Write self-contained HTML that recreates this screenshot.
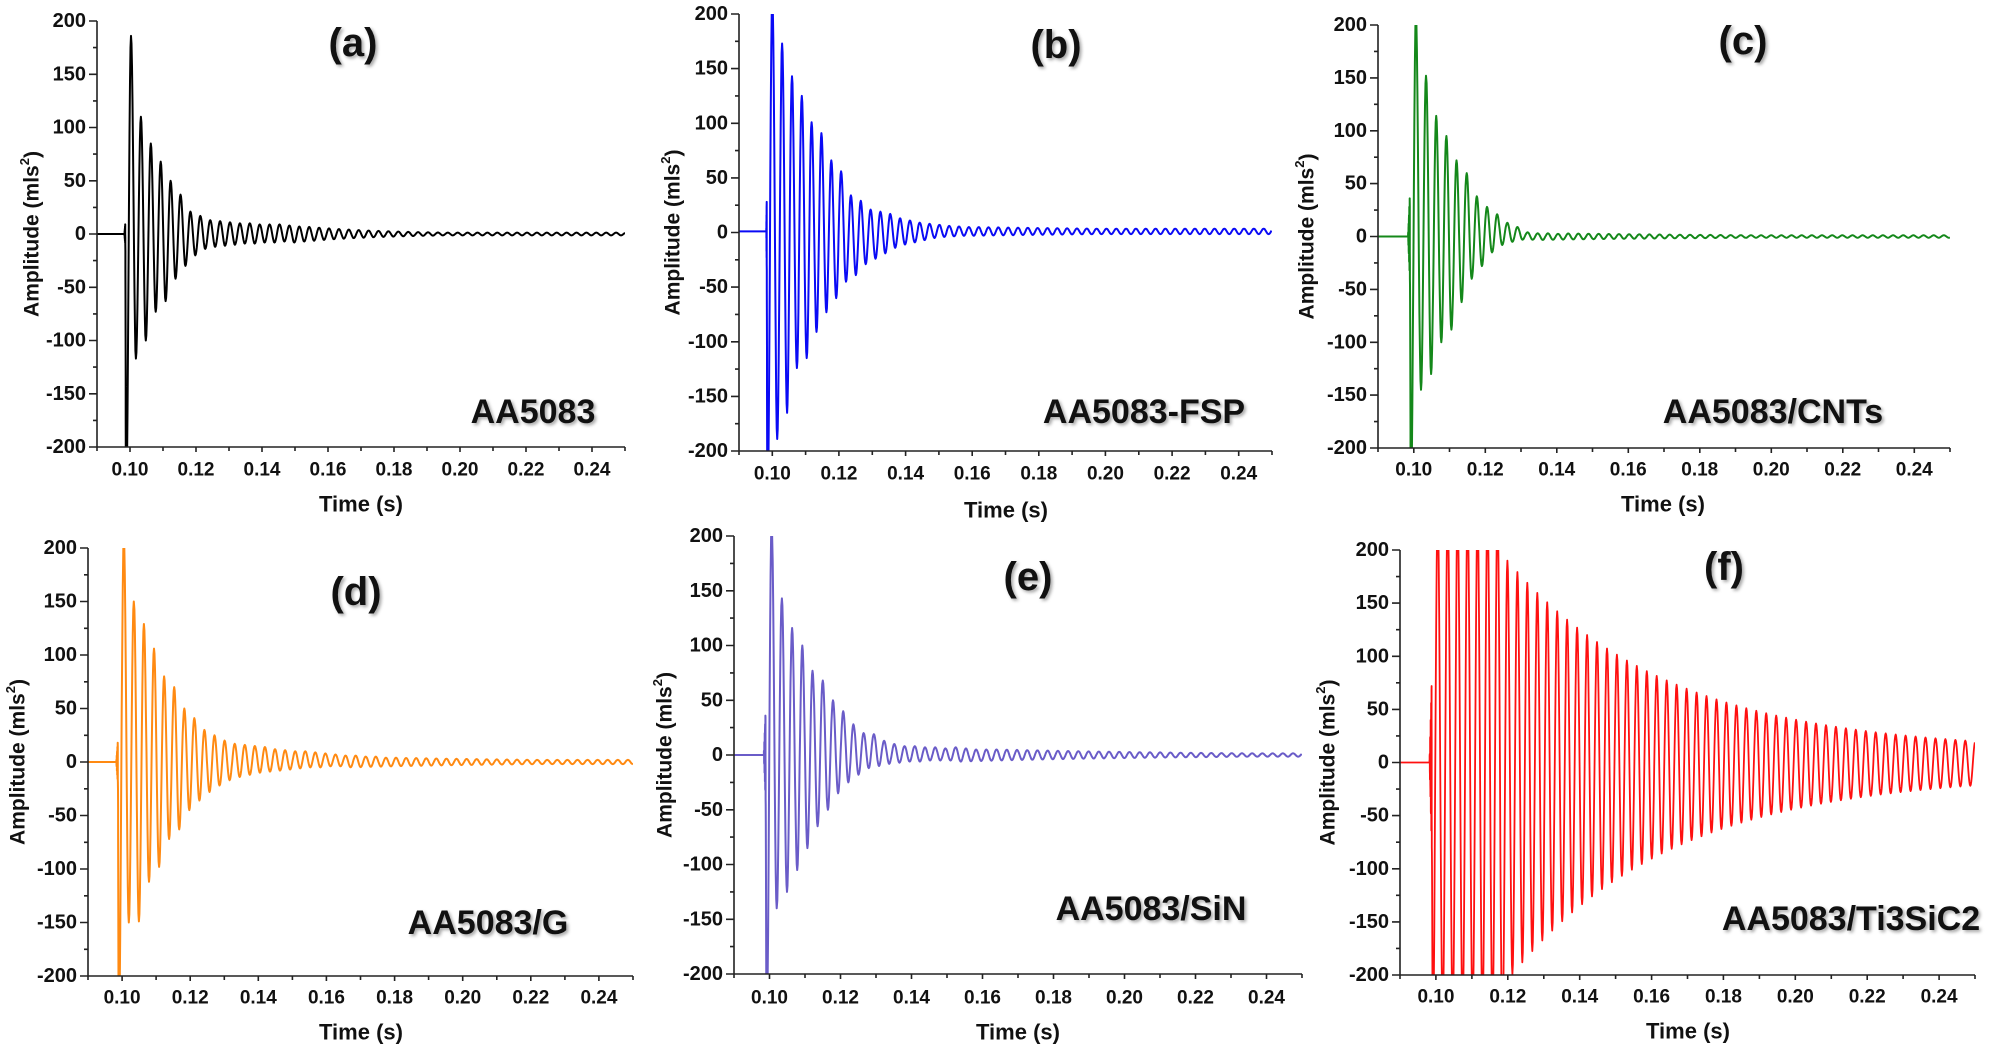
<!DOCTYPE html>
<html><head><meta charset="utf-8">
<style>
html,body{margin:0;padding:0;background:#fff;}
svg{display:block;}
text{font-family:"Liberation Sans",Arial,sans-serif;font-weight:bold;fill:#111;}
.yt{font-size:20px;text-anchor:end;dominant-baseline:central;}
.xt{font-size:19px;text-anchor:middle;dominant-baseline:central;}
.at{font-size:22px;text-anchor:middle;dominant-baseline:central;}
.am{font-size:21px;text-anchor:middle;dominant-baseline:central;}
.ti{font-size:40px;text-anchor:middle;dominant-baseline:central;filter:drop-shadow(2px 2px 1.5px rgba(0,0,0,0.35));}
.nm{font-size:34px;text-anchor:middle;dominant-baseline:central;filter:drop-shadow(2px 2px 1.5px rgba(0,0,0,0.35));}
</style></head><body>
<svg id="s" width="2000" height="1047" viewBox="0 0 2000 1047" xmlns="http://www.w3.org/2000/svg">
<defs id="defs"></defs>
<g id="p0">
<text class="yt">200</text><text class="yt">150</text><text class="yt">100</text><text class="yt">50</text><text class="yt">0</text><text class="yt">-50</text><text class="yt">-100</text><text class="yt">-150</text><text class="yt">-200</text>
<text class="xt">0.10</text><text class="xt">0.12</text><text class="xt">0.14</text><text class="xt">0.16</text><text class="xt">0.18</text><text class="xt">0.20</text><text class="xt">0.22</text><text class="xt">0.24</text>
<text class="at">Time (s)</text><text class="am">Amplitude (mls<tspan dy="-8" font-size="13">2</tspan><tspan dy="8">)</tspan></text>
<text class="ti">(a)</text><text class="nm">AA5083</text>
</g>
<g id="p1">
<text class="yt">200</text><text class="yt">150</text><text class="yt">100</text><text class="yt">50</text><text class="yt">0</text><text class="yt">-50</text><text class="yt">-100</text><text class="yt">-150</text><text class="yt">-200</text>
<text class="xt">0.10</text><text class="xt">0.12</text><text class="xt">0.14</text><text class="xt">0.16</text><text class="xt">0.18</text><text class="xt">0.20</text><text class="xt">0.22</text><text class="xt">0.24</text>
<text class="at">Time (s)</text><text class="am">Amplitude (mls<tspan dy="-8" font-size="13">2</tspan><tspan dy="8">)</tspan></text>
<text class="ti">(b)</text><text class="nm">AA5083-FSP</text>
</g>
<g id="p2">
<text class="yt">200</text><text class="yt">150</text><text class="yt">100</text><text class="yt">50</text><text class="yt">0</text><text class="yt">-50</text><text class="yt">-100</text><text class="yt">-150</text><text class="yt">-200</text>
<text class="xt">0.10</text><text class="xt">0.12</text><text class="xt">0.14</text><text class="xt">0.16</text><text class="xt">0.18</text><text class="xt">0.20</text><text class="xt">0.22</text><text class="xt">0.24</text>
<text class="at">Time (s)</text><text class="am">Amplitude (mls<tspan dy="-8" font-size="13">2</tspan><tspan dy="8">)</tspan></text>
<text class="ti">(c)</text><text class="nm">AA5083/CNTs</text>
</g>
<g id="p3">
<text class="yt">200</text><text class="yt">150</text><text class="yt">100</text><text class="yt">50</text><text class="yt">0</text><text class="yt">-50</text><text class="yt">-100</text><text class="yt">-150</text><text class="yt">-200</text>
<text class="xt">0.10</text><text class="xt">0.12</text><text class="xt">0.14</text><text class="xt">0.16</text><text class="xt">0.18</text><text class="xt">0.20</text><text class="xt">0.22</text><text class="xt">0.24</text>
<text class="at">Time (s)</text><text class="am">Amplitude (mls<tspan dy="-8" font-size="13">2</tspan><tspan dy="8">)</tspan></text>
<text class="ti">(d)</text><text class="nm">AA5083/G</text>
</g>
<g id="p4">
<text class="yt">200</text><text class="yt">150</text><text class="yt">100</text><text class="yt">50</text><text class="yt">0</text><text class="yt">-50</text><text class="yt">-100</text><text class="yt">-150</text><text class="yt">-200</text>
<text class="xt">0.10</text><text class="xt">0.12</text><text class="xt">0.14</text><text class="xt">0.16</text><text class="xt">0.18</text><text class="xt">0.20</text><text class="xt">0.22</text><text class="xt">0.24</text>
<text class="at">Time (s)</text><text class="am">Amplitude (mls<tspan dy="-8" font-size="13">2</tspan><tspan dy="8">)</tspan></text>
<text class="ti">(e)</text><text class="nm">AA5083/SiN</text>
</g>
<g id="p5">
<text class="yt">200</text><text class="yt">150</text><text class="yt">100</text><text class="yt">50</text><text class="yt">0</text><text class="yt">-50</text><text class="yt">-100</text><text class="yt">-150</text><text class="yt">-200</text>
<text class="xt">0.10</text><text class="xt">0.12</text><text class="xt">0.14</text><text class="xt">0.16</text><text class="xt">0.18</text><text class="xt">0.20</text><text class="xt">0.22</text><text class="xt">0.24</text>
<text class="at">Time (s)</text><text class="am">Amplitude (mls<tspan dy="-8" font-size="13">2</tspan><tspan dy="8">)</tspan></text>
<text class="ti">(f)</text><text class="nm">AA5083/Ti3SiC2</text>
</g>
</svg>
<script>
(function(){
var NS="http://www.w3.org/2000/svg";
var svg=document.getElementById('s'),defs=document.getElementById('defs');
function fb(a0,t0,tau,mn){return function(t){return Math.max(mn,a0*Math.exp(-(t-t0)/tau));};}
var F=function(t){return t<0.1195?235:10+168*Math.exp(-(t-0.123)/0.045);};
var cfg=[
{L:97,R:625,T:21,B:447,xl:470,tm:[361,504],amx:32,ti:[353,43],nm:[533,412],col:'#000000',
 tp0:0.1003,P:0.0030,pre:-260,b0:0.0983,ba:10,off:0,
 pk:[186,110,85,68,50,37,21,17,13,12,11,10,10,9,9,9,8,7],tr:[-117,-100,-73,-63,-42,-30,-20,-14,-12,-11,-10,-9,-9,-8,-8,-7],f:fb(7,0.153,0.025,1.3)},
{L:739,R:1272,T:14,B:451,xl:474,tm:[1006,510],amx:673,ti:[1056,45],nm:[1144,412],col:'#0a0af5',
 tp0:0.1000,P:0.00295,pre:-260,b0:0.0982,ba:30,off:1,
 pk:[215,172,142,124,100,90,65,55,33,28,20,18,16,12,10,8,7,6,5,4.5,4],tr:[-190,-166,-125,-116,-92,-74,-61,-46,-40,-30,-25,-20,-15,-12,-10,-8,-6,-5,-4.5,-4],f:fb(4,0.16,0.08,2.5)},
{L:1378,R:1950,T:25,B:448,xl:470,tm:[1663,504],amx:1307,ti:[1743,41],nm:[1773,412],col:'#14881a',
 tp0:0.1006,P:0.00284,pre:-260,b0:0.0984,ba:40,off:0,
 pk:[210,152,114,95,72,60,38,28,21,13,9,4,3,3,2.5],tr:[-145,-130,-100,-88,-62,-40,-28,-15,-8,-5,-3,-3],f:fb(3,0.14,0.06,1.2)},
{L:88,R:633,T:548,B:976,xl:998,tm:[361,1032],amx:18,ti:[356,592],nm:[488,923],col:'#ff8a12',
 tp0:0.1005,P:0.00296,pre:-260,b0:0.0983,ba:20,off:0,
 pk:[210,150,129,106,80,70,50,41,30,25,20,17,16,15,14,12,11,10,10,9,8,7,6,6,5,5,4,4],tr:[-150,-149,-112,-98,-72,-63,-45,-36,-28,-22,-17,-14,-12,-10,-9,-8,-7,-6,-5,-5,-4,-4],f:fb(4,0.18,0.06,2)},
{L:734,R:1302,T:536,B:974,xl:998,tm:[1018,1032],amx:665,ti:[1028,577],nm:[1151,909],col:'#6a5cc8',
 tp0:0.1006,P:0.00288,pre:-260,b0:0.0984,ba:40,off:0,
 pk:[210,143,116,100,77,68,50,40,28,20,19,13,10,8,8,7,7,6,7,6,5,5,5],tr:[-140,-125,-105,-85,-65,-50,-35,-25,-18,-12,-10,-8,-7,-6,-6,-5,-5,-5],f:fb(5,0.165,0.06,1.5)},
{L:1400,R:1975,T:550,B:975,xl:997,tm:[1688,1031],amx:1328,ti:[1724,567],nm:[1851,919],col:'#ff1010',
 tp0:0.1005,P:0.00277,pre:-260,b0:0.0982,ba:80,off:0,
 pk:[],tr:[],f:F,fneg:function(t){return t<0.1175?235:F(t)*1.08;}}
];
function el(n,a,p){var e=document.createElementNS(NS,n);for(var k in a)e.setAttribute(k,a[k]);(p||svg).appendChild(e);return e;}
cfg.forEach(function(c,i){
 var g=document.getElementById('p'+i);
 var X=function(t){return c.L+(t-0.09)/0.16*(c.R-c.L);};
 var Y=function(v){return (c.T+c.B)/2-v*(c.B-c.T)/400;};
 var cp=el('clipPath',{id:'c'+i},defs);el('rect',{x:c.L,y:c.T,width:c.R-c.L,height:c.B-c.T},cp);
 var ex=[[0.09,0],[c.b0,0]];
 var pre=c.tp0-c.P/2, n=10;
 for(var k=1;k<=n;k++){var t=c.b0+k*(pre-0.0002-c.b0)/(n+1);ex.push([t,(k%2?1:-1)*c.ba*k/n]);}
 ex.push([pre,c.pre]);
 for(var k=0;;k++){var t=c.tp0+k*c.P;if(t>0.2525)break;
  ex.push([t,(k<c.pk.length?c.pk[k]:c.f(t))]);
  var t2=t+c.P/2;ex.push([t2,(k<c.tr.length?c.tr[k]:-(c.fneg?c.fneg(t2):c.f(t2)))]);}
 var d='M'+X(0.09).toFixed(1)+','+Y(c.off).toFixed(1);
 for(var j=1;j<ex.length;j++){var a=ex[j-1],b=ex[j];
  var m=(a[1]+b[1])/2,h=(a[1]-b[1])/2,steps=(b[0]-a[0])>0.003?2:10;
  for(var s=1;s<=steps;s++){var tt=a[0]+(b[0]-a[0])*s/steps;if(tt>0.25)break;
   var v=m+h*Math.cos(Math.PI*s/steps)+c.off;d+='L'+X(tt).toFixed(1)+','+Y(v).toFixed(1);}
  if(b[0]>0.25)break;}
 el('path',{d:d,fill:'none',stroke:c.col,'stroke-width':i==5?1.8:2,'stroke-linejoin':'round','clip-path':'url(#c'+i+')'});
 var ax='M'+c.L+','+c.T+'V'+c.B+'H'+c.R;
 for(var v=-200;v<=200;v+=25){var y=Y(v);ax+='M'+c.L+','+y.toFixed(1)+'h'+(v%50==0?-8:-4);}
 for(var q=9;q<=25;q++){var x=X(q/100);ax+='M'+x.toFixed(1)+','+c.B+'v'+(q%2==0?5:4);}
 el('path',{d:ax,fill:'none',stroke:'#222','stroke-width':1.6});
 var yt=g.querySelectorAll('.yt');for(var j=0;j<9;j++){yt[j].setAttribute('x',c.L-11);yt[j].setAttribute('y',Y(200-50*j));}
 var xt=g.querySelectorAll('.xt');for(var j=0;j<8;j++){xt[j].setAttribute('x',X(0.10+0.02*j));xt[j].setAttribute('y',c.xl);}
 var at=g.querySelector('.at');at.setAttribute('x',c.tm[0]);at.setAttribute('y',c.tm[1]);
 var am=g.querySelector('.am');var cy=(c.T+c.B)/2;am.setAttribute('x',c.amx);am.setAttribute('y',cy);am.setAttribute('transform','rotate(-90 '+c.amx+' '+cy+')');
 var ti=g.querySelector('.ti');ti.setAttribute('x',c.ti[0]);ti.setAttribute('y',c.ti[1]);
 var nm=g.querySelector('.nm');nm.setAttribute('x',c.nm[0]);nm.setAttribute('y',c.nm[1]);
 svg.appendChild(g);
});
})();
</script>
</body></html>
